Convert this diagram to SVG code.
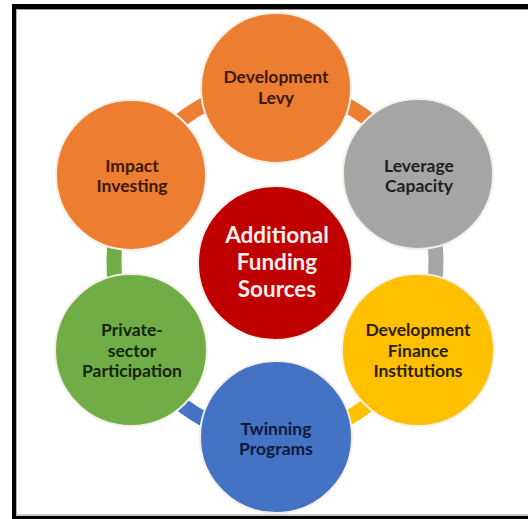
<svg xmlns="http://www.w3.org/2000/svg" width="528" height="519" viewBox="0 0 528 519">
<style>
.node{stroke:#f4efe6;stroke-width:2}
.t{font-family:Lato,"Open Sans","Liberation Sans",sans-serif;font-weight:bold;font-size:17.5px;text-anchor:middle}
.c{font-family:Lato,"Open Sans","Liberation Sans",sans-serif;font-weight:bold;font-size:22.5px;text-anchor:middle;fill:#fbeeee}
.link{fill:none;stroke-width:15}
</style>
<rect x="0" y="0" width="528" height="519" fill="#ffffff"/>
<g id="frame">
<rect x="12" y="4" width="516" height="5" fill="#000"/>
<rect x="12" y="4" width="4" height="515" fill="#000"/>
<rect x="12" y="516" width="516" height="3" fill="#000"/>
<line x1="16" y1="9.5" x2="528" y2="9.5" stroke="#9a9a9a" stroke-width="1"/>
<line x1="16" y1="515" x2="528" y2="515" stroke="#b8b8b8" stroke-width="1.5"/>
<line x1="16.5" y1="9" x2="16.5" y2="515" stroke="#b0b0b0" stroke-width="1"/>
</g>
<g id="connectors">
<path class="link" stroke="#ED7D31" d="M275 87 A161 175 0 0 1 414.4 174.5"/>
<path class="link" stroke="#A5A5A5" d="M414.4 174.5 A161 175 0 0 1 414.4 349.5"/>
<path class="link" stroke="#FFC000" d="M414.4 349.5 A161 175 0 0 1 275 437"/>
<path class="link" stroke="#4472C4" d="M275 437 A161 175 0 0 1 135.6 349.5"/>
<path class="link" stroke="#70AD47" d="M135.6 349.5 A161 175 0 0 1 135.6 174.5"/>
<path class="link" stroke="#ED7D31" d="M135.6 174.5 A161 175 0 0 1 275 87"/>
</g>
<g id="center">
<circle class="node" cx="275" cy="263" r="77" fill="#C00000"/>
<text class="c" x="277" y="243">Additional</text>
<text class="c" x="277" y="270">Funding</text>
<text class="c" x="277" y="297">Sources</text>
</g>
<g id="development-levy">
<circle class="node" cx="276" cy="88" r="75" fill="#ED7D31"/>
<text class="t" x="276" y="83" fill="#3a1a06">Development</text>
<text class="t" x="276" y="104" fill="#3a1a06">Levy</text>
</g>
<g id="leverage-capacity">
<circle class="node" cx="418" cy="174" r="75" fill="#A5A5A5"/>
<text class="t" x="419" y="172" fill="#1e1e1e">Leverage</text>
<text class="t" x="419" y="192" fill="#1e1e1e">Capacity</text>
</g>
<g id="dfi">
<circle class="node" cx="418" cy="350" r="76" fill="#FFC000"/>
<text class="t" x="418" y="336" fill="#2a2000">Development</text>
<text class="t" x="418" y="357" fill="#2a2000">Finance</text>
<text class="t" x="418" y="377" fill="#2a2000">Institutions</text>
</g>
<g id="twinning-programs">
<circle class="node" cx="276" cy="437" r="76" fill="#4472C4"/>
<text class="t" x="276" y="435" fill="#0e1a38">Twinning</text>
<text class="t" x="276" y="455" fill="#0e1a38">Programs</text>
</g>
<g id="private-sector">
<circle class="node" cx="131" cy="350" r="76" fill="#70AD47"/>
<text class="t" x="132" y="336" fill="#14240a">Private-</text>
<text class="t" x="132" y="357" fill="#14240a">sector</text>
<text class="t" x="132" y="377" fill="#14240a">Participation</text>
</g>
<g id="impact-investing">
<circle class="node" cx="131" cy="175" r="75" fill="#ED7D31"/>
<text class="t" x="132" y="172" fill="#3a1a06">Impact</text>
<text class="t" x="132" y="192" fill="#3a1a06">Investing</text>
</g>
</svg>
